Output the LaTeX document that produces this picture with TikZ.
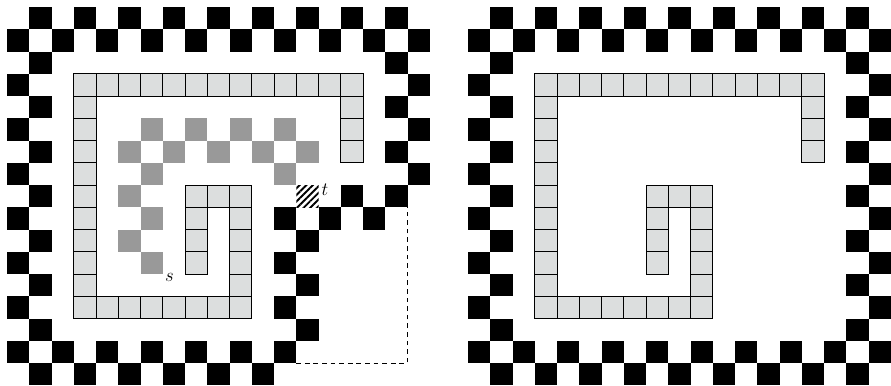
\documentclass[tikz,border=0pt]{standalone}
\usepackage{xcolor}
\usepackage{tikz}
\usetikzlibrary{patterns.meta}
\usepackage{amsmath}
\definecolor{wall}{HTML}{000000}
\definecolor{trail}{HTML}{999999}
\definecolor{block}{HTML}{DCDEDE}

% black squares of a band where col+row is odd
\newcommand{\frameband}[4]{%
  \foreach \c in {#1,...,#2}{\foreach \r in {#3,...,#4}{%
    \ifodd\numexpr\c+\r\relax \fill[wall] (\c,\r) rectangle ++(1,1);\fi}}}

% the light grey spiral of walls
\newcommand{\spiral}{%
  \foreach \c in {3,...,15} \draw[cell] (\c,3) rectangle ++(1,1);
  \foreach \r in {4,5,6} \draw[cell] (15,\r) rectangle ++(1,1);
  \foreach \r in {4,...,13} \draw[cell] (3,\r) rectangle ++(1,1);
  \foreach \c in {4,...,10} \draw[cell] (\c,13) rectangle ++(1,1);
  \foreach \r in {8,...,12} \draw[cell] (10,\r) rectangle ++(1,1);
  \foreach \c in {8,9} \draw[cell] (\c,8) rectangle ++(1,1);
  \foreach \r in {9,10,11} \draw[cell] (8,\r) rectangle ++(1,1);}

\begin{document}
\begin{tikzpicture}[x=0.5cm,y=-0.5cm,
    cell/.style={fill=block,draw=black,line width=0.6pt},
    lbl/.style={font=\fontsize{13}{15}\selectfont,inner sep=1pt}]
    \useasboundingbox (-0.315,-0.315) rectangle (39.73,17);

    % left grid
    \frameband{0}{18}{0}{1}
    \frameband{0}{1}{2}{16}
    \frameband{17}{18}{2}{8}
    \frameband{2}{12}{15}{16}
    \frameband{14}{16}{8}{9}
    \frameband{12}{13}{9}{14}
    \spiral
    \foreach \c/\r in {6/5,8/5,10/5,12/5,5/6,7/6,9/6,11/6,13/6,6/7,12/7,5/8,6/9,5/10,6/11}
      \fill[trail] (\c,\r) rectangle ++(1,1);
    \fill[pattern={Lines[angle=45,distance=3pt,line width=1.2pt]}] (13,8) rectangle ++(1,1);
    \node[lbl,anchor=west] (t) at (14.05,8.2) {$t$};
    \node[lbl] (s) at (7.3,12.15) {$s$};
    \coordinate (d1) at (13,16);
    \coordinate (d2) at (18,16);
    \coordinate (d3) at (18,9);
    \draw[line width=0.6pt,dash pattern=on 3pt off 2.5pt] (d1) -- (d2) -- (d3);

    % right grid
    \begin{scope}[shift={(20.72,0)}]
      \frameband{0}{18}{0}{1}
      \frameband{0}{18}{15}{16}
      \frameband{0}{1}{2}{14}
      \frameband{17}{18}{2}{14}
      \spiral
    \end{scope}
\end{tikzpicture}
\end{document}
